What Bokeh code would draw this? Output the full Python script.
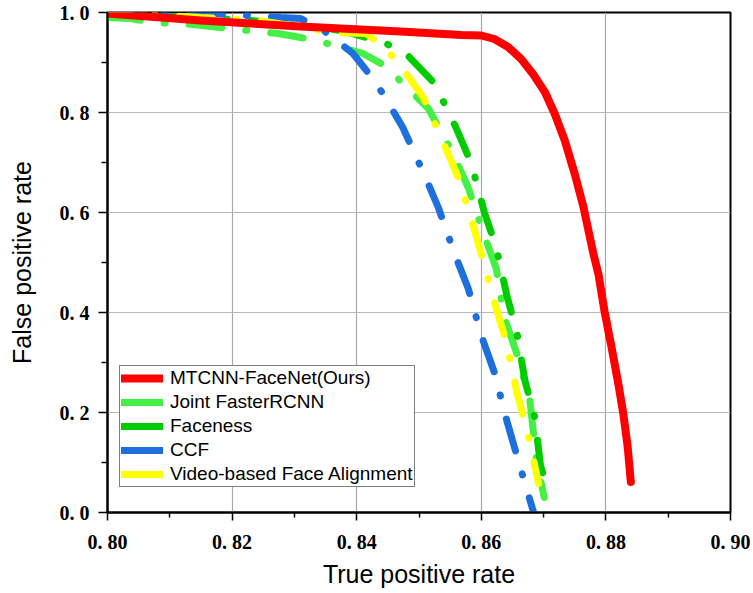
from bokeh.plotting import figure
from bokeh.models import Range1d, FixedTicker, Legend, LegendItem
from bokeh.embed import file_html
from bokeh.resources import INLINE

# ---- data ----
ours_tpr = [0.800, 0.8150, 0.8310, 0.8471, 0.8568, 0.8600, 0.8621, 0.8643, 0.8664, 0.8683, 0.8702, 0.8718, 0.8734, 0.8750, 0.8764, 0.8780, 0.8788, 0.8798, 0.8809, 0.8820, 0.8828, 0.8835, 0.8840]
ours_fpr = [0.998, 0.984, 0.972, 0.962, 0.955, 0.954, 0.947, 0.931, 0.907, 0.877, 0.841, 0.797, 0.744, 0.677, 0.611, 0.517, 0.477, 0.401, 0.331, 0.257, 0.197, 0.131, 0.061]

joint_tpr = [0.800, 0.8037, 0.8073, 0.8137, 0.8210, 0.8274, 0.8310, 0.8347, 0.8410, 0.8439, 0.8466, 0.8515, 0.8552, 0.8579, 0.8603, 0.8624, 0.8637, 0.8657, 0.8678, 0.8689, 0.8701]
joint_fpr = [0.990, 0.988, 0.980, 0.976, 0.966, 0.958, 0.950, 0.940, 0.918, 0.898, 0.868, 0.808, 0.724, 0.650, 0.560, 0.488, 0.390, 0.318, 0.224, 0.100, 0.030]

face_tpr = [0.800, 0.8230, 0.8375, 0.8444, 0.8479, 0.8525, 0.8560, 0.8584, 0.8605, 0.8624, 0.8641, 0.8657, 0.8670, 0.8686, 0.8695, 0.8702]
face_fpr = [0.998, 0.984, 0.964, 0.940, 0.918, 0.858, 0.768, 0.698, 0.600, 0.530, 0.434, 0.360, 0.264, 0.190, 0.094, 0.064]

ccf_tpr = [0.800, 0.8171, 0.8278, 0.8310, 0.8347, 0.8394, 0.8418, 0.8442, 0.8474, 0.8507, 0.8531, 0.8557, 0.8579, 0.8600, 0.8621, 0.8640, 0.8657, 0.8684]
ccf_fpr = [1.000, 0.998, 0.990, 0.988, 0.964, 0.918, 0.880, 0.838, 0.770, 0.680, 0.610, 0.518, 0.448, 0.354, 0.280, 0.188, 0.114, 0.000]

video_tpr = [0.800, 0.8150, 0.8242, 0.8314, 0.8364, 0.8415, 0.8441, 0.8468, 0.8507, 0.8539, 0.8563, 0.8587, 0.8603, 0.8624, 0.8641, 0.8657, 0.8673, 0.8692]
video_fpr = [1.000, 0.990, 0.984, 0.970, 0.960, 0.958, 0.934, 0.898, 0.830, 0.740, 0.670, 0.574, 0.504, 0.408, 0.338, 0.240, 0.168, 0.058]

series_names = ["MTCNN-FaceNet(Ours)", "Joint FasterRCNN", "Faceness", "CCF", "Video-based Face Alignment"]
series_colors = ["#ff0000", "#44f044", "#00cc00", "#1c6fdc", "#ffff00"]

x_ticks = [0.80, 0.82, 0.84, 0.86, 0.88, 0.90]
x_tick_labels = ["0. 80", "0. 82", "0. 84", "0. 86", "0. 88", "0. 90"]
x_minor = [0.81, 0.83, 0.85, 0.87, 0.89]
y_ticks = [0.0, 0.2, 0.4, 0.6, 0.8, 1.0]
y_tick_labels = ["0. 0", "0. 2", "0. 4", "0. 6", "0. 8", "1. 0"]
y_minor = [0.1, 0.3, 0.5, 0.7, 0.9]

# ---- figure ----
p = figure(width=753, height=593, output_backend="svg", toolbar_location=None,
           x_range=Range1d(0.80, 0.90), y_range=Range1d(0.0, 1.0),
           min_border_left=107, min_border_right=23, min_border_top=12, min_border_bottom=81)
p.background_fill_color = "white"
p.border_fill_color = "white"
p.outline_line_color = "black"
p.outline_line_width = 2

for ax, ticks, labels, minor in ((p.xaxis[0], x_ticks, x_tick_labels, x_minor),
                                  (p.yaxis[0], y_ticks, y_tick_labels, y_minor)):
    ax.ticker = FixedTicker(ticks=ticks, minor_ticks=minor)
    ax.major_label_overrides = {t: l for t, l in zip(ticks, labels)}
    ax.axis_line_color = "black"
    ax.axis_line_width = 2
    ax.major_tick_line_color = "black"
    ax.minor_tick_line_color = "black"
    ax.major_tick_line_width = 1.5
    ax.minor_tick_line_width = 1.5
    ax.major_tick_in = 0
    ax.minor_tick_in = 0
    ax.major_label_text_font = "Liberation Serif"
    ax.major_label_text_font_size = "20px"
    ax.major_label_text_font_style = "bold"
    ax.major_label_text_color = "black"
    ax.axis_label_text_font = "Liberation Sans"
    ax.axis_label_text_font_size = "25px"
    ax.axis_label_text_font_style = "normal"
    ax.axis_label_text_color = "black"

p.xaxis.major_tick_out = 8
p.xaxis.minor_tick_out = 5
p.yaxis.major_tick_out = 9
p.yaxis.minor_tick_out = 6
p.xaxis.major_label_standoff = 10
p.yaxis.major_label_standoff = 9
p.xaxis.axis_label = "True positive rate"
p.yaxis.axis_label = "False positive rate"
p.xaxis.axis_label_standoff = 4
p.yaxis.axis_label_standoff = 21

p.xgrid.ticker = FixedTicker(ticks=x_ticks[1:-1])
p.ygrid.ticker = FixedTicker(ticks=y_ticks[1:-1])
p.xgrid.grid_line_color = "#a8a8a8"
p.ygrid.grid_line_color = "#b8b8b8"
p.xgrid.grid_line_width = 1.2
p.ygrid.grid_line_width = 1.2

dash = "33 24 1 24"
p.line(joint_tpr, joint_fpr, line_color=series_colors[1], line_width=7, line_dash=dash, line_cap="round")
p.line(face_tpr, face_fpr, line_color=series_colors[2], line_width=7, line_dash=dash, line_cap="round", line_dash_offset=20)
p.line(ccf_tpr, ccf_fpr, line_color=series_colors[3], line_width=7, line_dash=dash, line_cap="round")
p.line(video_tpr, video_fpr, line_color=series_colors[4], line_width=7, line_dash=dash, line_cap="round", line_dash_offset=10)
p.line(ours_tpr, ours_fpr, line_color=series_colors[0], line_width=8, line_join="round", line_cap="round")

# legend swatches (solid lines, renderers with no visible data)
nan = float("nan")
items = []
for name, col in zip(series_names, series_colors):
    r = p.line([nan, nan], [nan, nan], line_color=col, line_width=8 if col == "#ff0000" else 7, line_cap="round")
    items.append(LegendItem(label=name, renderers=[r]))

legend = Legend(items=items, location=(12, 25), orientation="vertical")
legend.border_line_color = "black"
legend.border_line_width = 1
legend.background_fill_alpha = 1.0
legend.label_text_font = "Liberation Sans"
legend.label_text_font_size = "19px"
legend.label_text_color = "black"
legend.glyph_width = 42
legend.glyph_height = 20
legend.label_height = 20
legend.label_standoff = 7
legend.spacing = 2
legend.padding = 1
legend.margin = 0
p.add_layout(legend)

open("out.html", "w").write(file_html(p, INLINE))
